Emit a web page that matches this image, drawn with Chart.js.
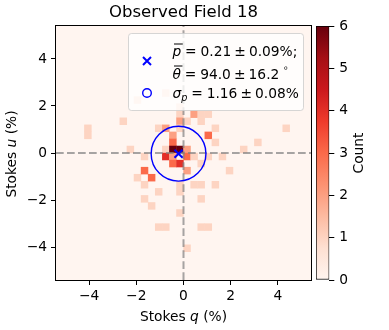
<!DOCTYPE html>
<html>
<head>
<meta charset="utf-8">
<script src="https://cdn.jsdelivr.net/npm/chart.js@4.4.0/dist/chart.umd.min.js"></script>
<style>
  html, body { margin: 0; padding: 0; background: #fff; }
  #wrap { position: relative; width: 389px; height: 330px; }
  #main { position: absolute; left: 0; top: 0; }
  #cbar { position: absolute; left: 300px; top: 0; }
</style>
</head>
<body>
<div id="wrap">
  <canvas id="main" width="389" height="330"></canvas>
  <canvas id="cbar" width="89" height="330"></canvas>
</div>
<script>
// 2D histogram of Stokes q/u, square bins 0.3 % wide over +-5.4 %
const binSize = 0.3;
const axisMin = -5.4, axisMax = 5.4;
const xTicks = [-4, -2, 0, 2, 4];
const yTicks = [-4, -2, 0, 2, 4];
const countTicks = [0, 1, 2, 3, 4, 5, 6];

// non-empty bins: bin centres and counts
const cellQ = [-4.05, -4.05, -2.55, -2.25, -1.95, -1.95, -1.65, -1.65, -1.65, -1.65,
               -1.35, -1.35, -1.05, -1.05, -1.05, -0.75, -0.75, -0.75, -0.75, -0.75,
               -0.45, -0.45, -0.45, -0.45, -0.45, -0.15, -0.15, -0.15, -0.15, -0.15,
               -0.15, -0.15, -0.15, -0.15, 0.15, 0.15, 0.15, 0.15, 0.15, 0.45,
               0.45, 0.45, 0.75, 0.75, 0.75, 0.75, 0.75, 0.75, 1.05, 1.05,
               1.05, 1.05, 1.35, 1.35, 1.35, 1.65, 1.95, 2.55, 3.15, 4.35];
const cellU = [1.05, 0.75, 1.35, 0.15, 2.25, -1.05, -0.15, -0.75, -1.35, -1.95,
               -1.05, -2.25, 1.05, -1.65, -3.15, -3.15, 2.55, 1.05, 0.15, -0.15,
               0.75, 0.45, 0.15, -0.15, -0.45, 1.95, 1.65, 1.35, 1.05, 0.15,
               -0.45, -1.35, -1.65, -2.55, 1.35, 0.15, -0.15, -0.75, -4.05, 1.65,
               -0.15, -1.35, 1.65, 1.35, -0.45, -1.35, -1.95, -3.15, -3.15, 1.65,
               0.75, -0.15, 1.05, 0.45, -1.35, -0.15, -0.75, 0.15, 0.45, 1.05];
const cellCount = [1, 1, 1, 1, 1, 1, 1, 3, 1, 1,
                   3, 1, 1, 1, 1, 1, 1, 2, 1, 4,
                   2, 3, 6, 2, 3, 1, 1, 2, 1, 6,
                   4, 1, 1, 1, 1, 2, 3, 2, 1, 2,
                   1, 1, 1, 1, 1, 1, 1, 1, 1, 1,
                   3, 1, 1, 1, 1, 1, 1, 1, 1, 1];

// summary statistics
const meanQ = -0.21, meanU = -0.03;
const pMean = 0.21, pErr = 0.09;
const thetaMean = 94.0, thetaErr = 16.2;
const sigmaP = 1.16, sigmaErr = 0.08;

const FONT = '"DejaVu Sans", sans-serif';
const EM = 13.8;
const reds = ['#fff5f0', '#fee0d2', '#fcbba1', '#fc9272', '#fb6a4a', '#ef3b2c', '#cb181d', '#a50f15', '#67000d'];

function redsColor(t) {
  t = Math.max(0, Math.min(1, t)) * (reds.length - 1);
  const i = Math.min(Math.floor(t), reds.length - 2), f = t - i;
  const a = parseInt(reds[i].slice(1), 16), b = parseInt(reds[i + 1].slice(1), 16);
  const ch = s => Math.round(((a >> s) & 255) * (1 - f) + ((b >> s) & 255) * f);
  return `rgb(${ch(16)},${ch(8)},${ch(0)})`;
}

// draw a run of text pieces with mixed styles (gap = extra space before, in em)
function textRun(c, x, y, parts, measureOnly) {
  for (const p of parts) {
    x += (p.gap || 0) * EM;
    c.font = `${p.it ? 'italic ' : ''}${p.size || EM}px ${FONT}`;
    const w = c.measureText(p.t).width;
    if (!measureOnly) {
      c.fillText(p.t, x, y + (p.dy || 0));
      if (p.bar) c.fillRect(x + 1.5, y - p.bar, w, 1);
    }
    x += w;
  }
  return x;
}
function centredRun(c, cx, y, parts) {
  const w = textRun(c, 0, 0, parts, true);
  textRun(c, cx - w / 2, y, parts);
}
// "= a ± b" with mathtext-like spacing
const eqPm = (a, b, tail) => [
  {t: '=', gap: 0.278}, {t: a, gap: 0.278},
  {t: '\u00b1', gap: 0.222}, {t: b + tail, gap: 0.222}
];

const pxPerUnit = s => Math.abs(s.getPixelForValue(1) - s.getPixelForValue(0));

const framePlugin = {
  id: 'frame',
  beforeDatasetsDraw(chart) {
    const a = chart.chartArea, c = chart.ctx;
    c.save();
    c.fillStyle = redsColor(0);
    c.fillRect(a.left, a.top, a.right - a.left, a.bottom - a.top);
    c.restore();
  },
  afterDatasetsDraw(chart) {
    const a = chart.chartArea, c = chart.ctx;
    c.save();
    c.strokeStyle = '#000';
    c.lineWidth = 1;
    c.strokeRect(Math.round(a.left) - 0.5, Math.round(a.top) - 0.5,
                 Math.round(a.right - a.left) + 1, Math.round(a.bottom - a.top) + 1);
    c.restore();
  },
  afterDraw(chart) {
    const c = chart.ctx, a = chart.chartArea;
    c.save();
    c.fillStyle = '#000';
    c.textBaseline = 'middle';
    // axis titles
    centredRun(c, (a.left + a.right) / 2, 317, [{t: 'Stokes '}, {t: 'q', it: true}, {t: ' (%)'}]);
    c.translate(12, (a.top + a.bottom) / 2 + 1);
    c.rotate(-Math.PI / 2);
    centredRun(c, 0, 0, [{t: 'Stokes '}, {t: 'u', it: true}, {t: ' (%)'}]);
    c.restore();

    // legend box
    c.save();
    c.beginPath();
    c.roundRect(128.5, 33.5, 175, 77, 3);
    c.fillStyle = 'rgba(255,255,255,0.8)';
    c.fill();
    c.strokeStyle = 'rgba(204,204,204,0.8)';
    c.lineWidth = 1;
    c.stroke();
    // markers
    c.strokeStyle = '#0000ff';
    c.lineWidth = 2;
    c.beginPath();
    c.moveTo(143, 57); c.lineTo(151, 65);
    c.moveTo(151, 57); c.lineTo(143, 65);
    c.stroke();
    c.lineWidth = 1.4;
    c.beginPath();
    c.arc(147, 93, 4.3, 0, Math.PI * 2);
    c.stroke();
    // labels
    c.fillStyle = '#000';
    c.textBaseline = 'alphabetic';
    textRun(c, 172.5, 56, [{t: 'p', it: true, bar: 12.5}].concat(eqPm(pMean.toFixed(2), pErr.toFixed(2), '%;')));
    const x2 = textRun(c, 172.5, 79, [{t: '\u03b8', it: true, bar: 13.5}].concat(eqPm(thetaMean.toFixed(1), thetaErr.toFixed(1), '')));
    textRun(c, x2, 79, [{t: '\u2218', size: 9.5, dy: -8, gap: 0.25}]);
    textRun(c, 172.5, 98, [{t: '\u03c3', it: true}, {t: 'p', it: true, size: 9.7, dy: 3}].concat(eqPm(sigmaP.toFixed(2), sigmaErr.toFixed(2), '%')));
    c.restore();
  }
};

const heatData = cellQ.map((q, k) => ({x: q, y: cellU[k], c: cellCount[k]}));
const maxCount = countTicks[countTicks.length - 1];
const zeroLineStyle = {
  showLine: true, pointRadius: 0, borderColor: 'rgba(128,128,128,0.7)',
  borderWidth: 2, borderDash: [7.7, 3.3], order: 3
};

new Chart(document.getElementById('main'), {
  type: 'scatter',
  data: {
    datasets: [
      {
        label: 'counts',
        data: heatData,
        pointStyle: 'rect',
        pointRadius: ctx => (pxPerUnit(ctx.chart.scales.x) * binSize + 0.4) / Math.SQRT2,
        backgroundColor: ctx => redsColor(ctx.raw.c / maxCount),
        borderWidth: 0,
        order: 4
      },
      Object.assign({label: 'q0', data: [{x: 0, y: axisMin}, {x: 0, y: axisMax}]}, zeroLineStyle),
      Object.assign({label: 'u0', data: [{x: axisMin, y: 0}, {x: axisMax, y: 0}]}, zeroLineStyle),
      {
        label: 'sigma',
        data: [{x: meanQ, y: meanU}],
        pointStyle: 'circle',
        pointRadius: ctx => pxPerUnit(ctx.chart.scales.x) * sigmaP,
        backgroundColor: 'rgba(0,0,0,0)',
        borderColor: '#0000ff',
        borderWidth: 1.4,
        order: 2
      },
      {
        label: 'mean',
        data: [{x: meanQ, y: meanU}],
        pointStyle: 'crossRot',
        pointRadius: 5.7,
        borderColor: '#0000ff',
        borderWidth: 2,
        order: 1
      }
    ]
  },
  options: {
    responsive: false,
    animation: false,
    events: [],
    layout: {padding: {left: 0, right: 78, top: 0, bottom: 0}},
    plugins: {
      legend: {display: false},
      tooltip: {enabled: false},
      title: {
        display: true, text: 'Observed Field 18', color: '#000', fullSize: false,
        font: {family: FONT, size: 16.5, weight: 'normal'},
        padding: {top: 3, bottom: 3.2}
      }
    },
    scales: {
      x: {
        type: 'linear', min: axisMin, max: axisMax,
        afterBuildTicks: s => { s.ticks = xTicks.map(v => ({value: v})); },
        afterFit: s => { s.height = 50; },
        ticks: {
          color: '#000', padding: 3, maxRotation: 0,
          font: {family: FONT, size: EM},
          callback: v => (v < 0 ? '\u2212' + Math.abs(v) : String(v))
        },
        grid: {drawOnChartArea: false, tickLength: 5, tickColor: '#000', tickWidth: 1},
        border: {display: false}
      },
      y: {
        type: 'linear', min: axisMin, max: axisMax,
        afterBuildTicks: s => { s.ticks = yTicks.map(v => ({value: v})); },
        afterFit: s => { s.width = 56; },
        ticks: {
          color: '#000', padding: 4,
          font: {family: FONT, size: EM},
          callback: v => (v < 0 ? '\u2212' + Math.abs(v) : String(v))
        },
        grid: {drawOnChartArea: false, tickLength: 5, tickColor: '#000', tickWidth: 1},
        border: {display: false}
      }
    }
  },
  plugins: [framePlugin]
});

// colour bar
const cbarTitle = {
  id: 'cbarTitle',
  afterDraw(chart) {
    const c = chart.ctx, a = chart.chartArea;
    c.save();
    c.fillStyle = '#000';
    c.font = `${EM}px ${FONT}`;
    c.textAlign = 'center';
    c.textBaseline = 'middle';
    c.translate(59.5, (a.top + a.bottom) / 2);
    c.rotate(-Math.PI / 2);
    c.fillText('Count', 0, 0);
    c.restore();
  }
};

new Chart(document.getElementById('cbar'), {
  type: 'bar',
  data: {
    labels: [''],
    datasets: [{
      data: [maxCount],
      barPercentage: 1,
      categoryPercentage: 1,
      borderWidth: 1,
      borderColor: '#000',
      borderSkipped: false,
      backgroundColor: ctx => {
        const ch = ctx.chart;
        if (!ch.chartArea) return reds[4];
        const y = ch.scales.y;
        const g = ch.ctx.createLinearGradient(0, y.getPixelForValue(0), 0, y.getPixelForValue(maxCount));
        reds.forEach((col, k) => g.addColorStop(k / (reds.length - 1), col));
        return g;
      }
    }]
  },
  options: {
    responsive: false,
    animation: false,
    events: [],
    layout: {padding: {left: 16, right: 0, top: 26, bottom: 50}},
    plugins: {legend: {display: false}, tooltip: {enabled: false}},
    scales: {
      x: {display: false},
      y: {
        position: 'right', min: 0, max: maxCount,
        afterBuildTicks: s => { s.ticks = countTicks.map(v => ({value: v})); },
        afterFit: s => { s.width = 59.7; },
        ticks: {color: '#000', padding: 5, font: {family: FONT, size: EM}},
        grid: {drawOnChartArea: false, tickLength: 5, tickColor: '#000', tickWidth: 1},
        border: {display: false}
      }
    }
  },
  plugins: [cbarTitle]
});
</script>
</body>
</html>
